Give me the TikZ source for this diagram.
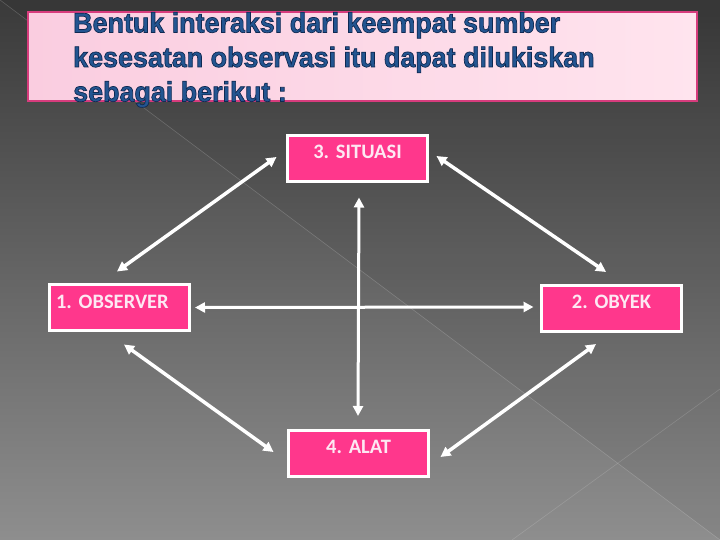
\documentclass[tikz,border=0pt]{standalone}
\usepackage{fontspec}
\setmainfont{Carlito}
\newfontfamily\titlefont[FakeStretch=0.96]{Liberation Sans}
\usetikzlibrary{arrows.meta,shadings}
\definecolor{boxpink}{RGB}{255,55,140}
\definecolor{labelpink}{RGB}{253,232,243}
\definecolor{titleblue}{RGB}{35,85,145}
\definecolor{titleborder}{RGB}{215,60,125}
\definecolor{titleleft}{RGB}{250,205,224}
\definecolor{titleright}{RGB}{255,228,238}
\definecolor{bgtop}{RGB}{58,58,58}
\definecolor{bgbot}{RGB}{142,142,142}
\definecolor{bgmid}{RGB}{100,100,100}
\newcommand{\outlineon}{\special{pdf:literal 2 Tr 0.7 w 0.06 0.16 0.32 RG}}
\newcommand{\outlineoff}{\special{pdf:literal 0 Tr}}
\tikzset{
  itembox/.style={draw=white, line width=3pt, fill=boxpink, minimum width=140pt,
    inner xsep=0pt, inner ysep=0pt, text height=23.5pt, text depth=22.5pt,
    text=labelpink, font=\bfseries\fontsize{20.5}{22}\selectfont, text width=140pt, align=center},
  dblarrow/.style={draw=white, line width=3.5pt, {Triangle[length=10pt,width=10pt]}-{Triangle[length=10pt,width=10pt]}},
  hvarrow/.style={draw=white, line width=3pt, {Triangle[length=10pt,width=10pt]}-{Triangle[length=10pt,width=10pt]}},
}
\begin{document}
\frenchspacing
\begin{tikzpicture}[x=1pt,y=-1pt]
\useasboundingbox (0,0) rectangle (720,540);
% background
\shade[top color=bgtop, bottom color=bgbot, middle color=bgmid] (0,0) rectangle (720,540);
\fill[black, opacity=0.05] (0,0) -- (720,0) -- (720,540) -- cycle;
\draw[white, opacity=0.18, line width=0.6pt] (0,0) -- (720,540);
\draw[white, opacity=0.15, line width=0.6pt] (512,540) -- (720,389);
% title
\shade[left color=titleleft, right color=titleright] (28,12) rectangle (697,101);
\draw[titleborder, line width=1.2pt] (28,12) rectangle (697,101);
\node[anchor=north west, inner sep=0pt, align=left, text=titleblue,
  font=\titlefont\bfseries\fontsize{28}{34.5}\selectfont] (title) at (73,12)
  {\outlineon Bentuk interaksi dari keempat sumber\\kesesatan observasi itu dapat dilukiskan\\sebagai berikut :\outlineoff};
% boxes
\node[itembox] (sit) at (357.5,158.5) {3.\ SITUASI};
\node[itembox, align=left, text width=126pt] (obs) at (119,307.5) {1.\ OBSERVER};
\node[itembox] (oby) at (611.5,308) {2.\ OBYEK};
\node[itembox] (alat) at (358.5,453) {4.\ ALAT};
% connectors
\draw[dblarrow] ([xshift=-2pt,yshift=11.5pt]obs.north) -- ([xshift=-9.5pt,yshift=1.5pt]sit.west);
\draw[dblarrow] ([xshift=7.5pt,yshift=2.5pt]sit.east) -- ([xshift=-5.5pt,yshift=11.5pt]oby.north);
\draw[dblarrow] ([xshift=5pt,yshift=-12.5pt]obs.south) -- ([xshift=-13.5pt,yshift=1pt]alat.west);
\draw[dblarrow] ([xshift=10.5pt,yshift=-4pt]alat.east) -- ([xshift=-15.5pt,yshift=-11.5pt]oby.south);
\draw[hvarrow] ([xshift=4.5pt]obs.east) -- ([xshift=-6.5pt,yshift=1pt]oby.west);
\draw[hvarrow] ([xshift=1.5pt,yshift=-14.5pt]sit.south) -- ([xshift=-0.5pt,yshift=12.5pt]alat.north);
\end{tikzpicture}
\end{document}
